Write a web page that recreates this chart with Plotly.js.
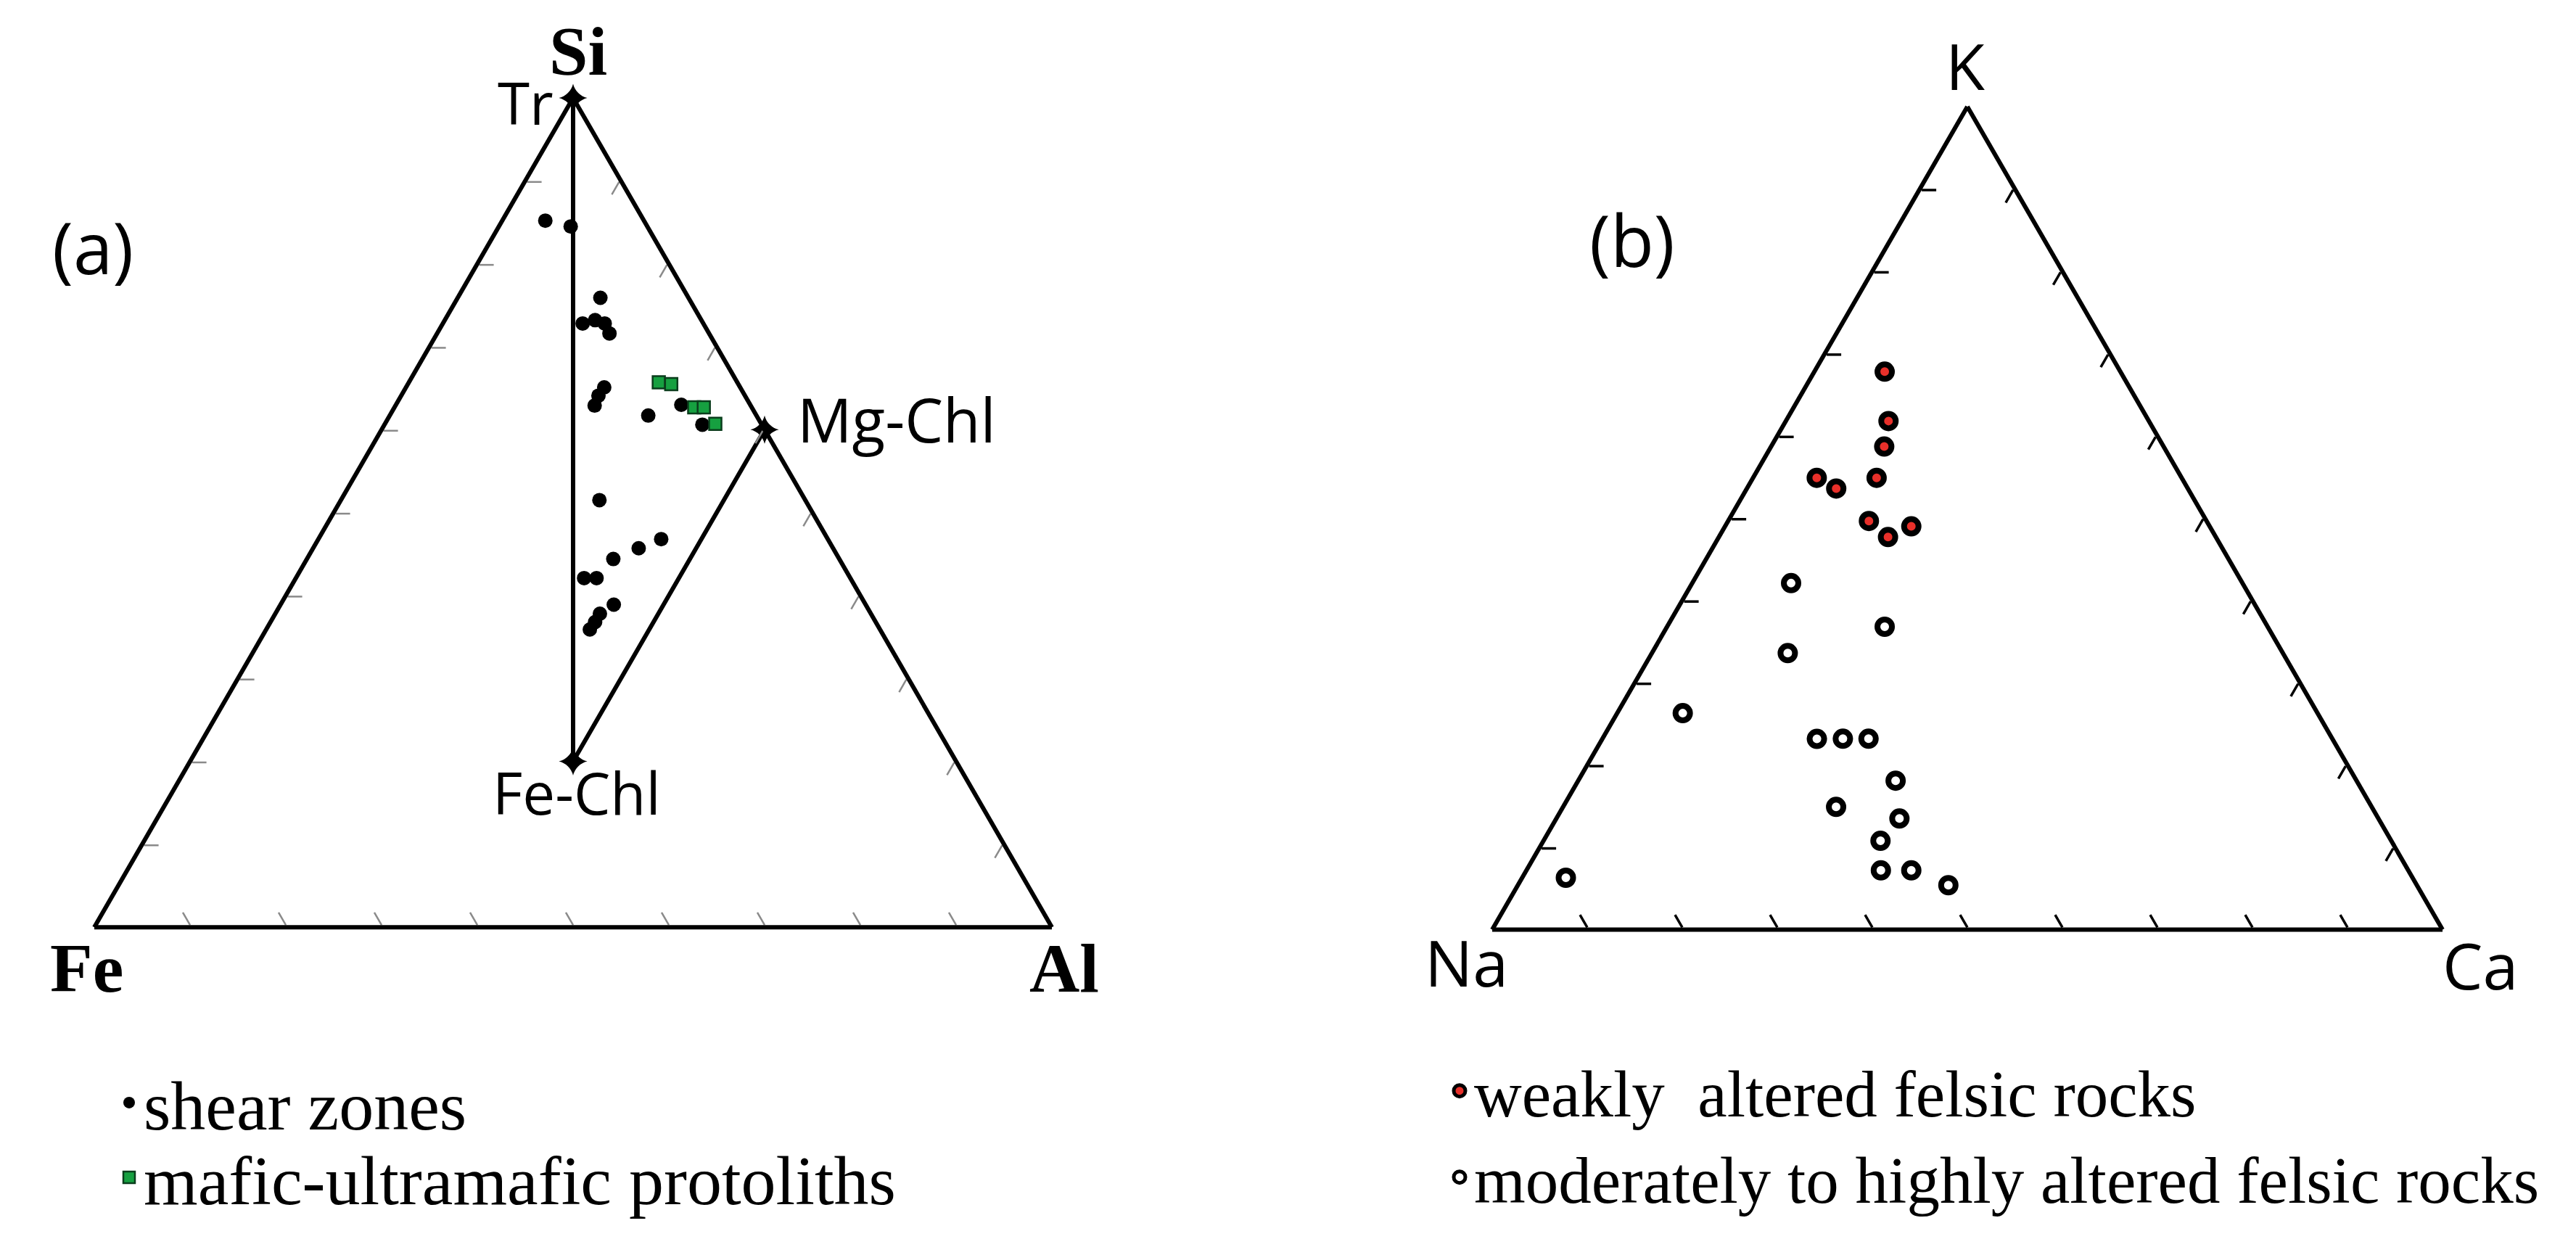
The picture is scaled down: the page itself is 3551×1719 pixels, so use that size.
<!DOCTYPE html>
<html>
<head>
<meta charset="utf-8">
<script src="https://cdn.plot.ly/plotly-3.0.1.min.js"></script>
<style>html,body{margin:0;padding:0;background:#fff;}#chart{width:3551px;height:1719px;}</style>
</head>
<body>
<div id="chart"></div>
<script>
// ---------- Panel (a): Si (top) - Fe (left) - Al (right) ----------
const shearSi = [0.852,0.845,0.759,0.728,0.732,0.728,0.716,0.651,0.641,0.629,0.617,0.630,0.606,0.515,0.468,0.457,0.444,0.421,0.421,0.389,0.378,0.368,0.359];
const shearFe = [0.103,0.080,0.092,0.126,0.111,0.103,0.104,0.142,0.153,0.163,0.113,0.072,0.062,0.215,0.174,0.203,0.236,0.278,0.265,0.263,0.283,0.293,0.303];
const shearAl = [0.045,0.075,0.149,0.146,0.157,0.169,0.180,0.207,0.206,0.208,0.270,0.298,0.332,0.270,0.358,0.340,0.320,0.301,0.314,0.348,0.339,0.339,0.338];

const maficSi = [0.657,0.655,0.627,0.627,0.607];
const maficFe = [0.082,0.070,0.060,0.050,0.048];
const maficAl = [0.261,0.275,0.313,0.323,0.345];

const mineralNames = ['Tr','Fe-Chl','Mg-Chl'];
const mineralSi = [1.0,0.2,0.6];
const mineralFe = [0.0,0.4,0.0];
const mineralAl = [0.0,0.4,0.4];

// ---------- Panel (b): K (top) - Na (left) - Ca (right) ----------
const weakK  = [0.678,0.618,0.587,0.549,0.536,0.549,0.496,0.490,0.477];
const weakNa = [0.248,0.274,0.294,0.384,0.370,0.321,0.355,0.314,0.345];
const weakCa = [0.074,0.108,0.119,0.067,0.094,0.130,0.148,0.196,0.178];

const modK  = [0.421,0.368,0.336,0.263,0.232,0.232,0.232,0.181,0.149,0.135,0.108,0.072,0.072,0.054,0.063];
const modNa = [0.475,0.403,0.521,0.668,0.543,0.515,0.488,0.485,0.563,0.504,0.538,0.555,0.523,0.493,0.891];
const modCa = [0.104,0.229,0.143,0.069,0.226,0.253,0.280,0.334,0.287,0.361,0.355,0.373,0.405,0.453,0.046];

const legendA = ['shear zones','mafic-ultramafic protoliths'];
const legendB = ['weakly  altered felsic rocks','moderately to highly altered felsic rocks'];
const cornerA = ['Si','Fe','Al'];
const cornerB = ['K','Na','Ca'];
const panelLabels = ['(a)','(b)'];

const W = 3551, H = 1719;
const px = v => v / W;
const py = v => 1 - v / H;

const sans = 'Open Sans, Liberation Sans, sans-serif';
const serif = 'Liberation Serif, Times New Roman, serif';

// triangle frame of panel (a) in page pixels (used for the domain and for label placement)
const frameA = {x0:130, w:1320, y0:135};
frameA.h = frameA.w * Math.sqrt(3) / 2;
const frameB = {x0:2057, w:1310, y0:147};
frameB.h = frameB.w * Math.sqrt(3) / 2;

function ternToPage(f, a, b, c){
  const s = a + b + c;
  const A = a / s, C = c / s;
  return {x: f.x0 + (C + A / 2) * f.w, y: f.y0 + (1 - A) * f.h};
}

// vertex labels: anchor + pixel offset from the vertex
const labelSpec = [
  {dx:-25, dy:5,  xanchor:'right',  size:80},   // Tr
  {dx:5,   dy:42, xanchor:'center', size:80},   // Fe-Chl
  {dx:43,  dy:-15, xanchor:'left',  size:84}    // Mg-Chl
];
const mineralLabels = mineralNames.map((n, i) => {
  const p = ternToPage(frameA, mineralSi[i], mineralFe[i], mineralAl[i]);
  const s = labelSpec[i];
  return {text:n, x:px(p.x + s.dx), y:py(p.y + s.dy), xanchor:s.xanchor,
          font:{family:sans, size:s.size, color:'#000'}};
});

const traces = [
  {
    type:'scatterternary', subplot:'ternary', mode:'lines+markers', cliponaxis:false,
    a: mineralSi, b: mineralFe, c: mineralAl, text: mineralNames,
    line:{color:'#000', width:6},
    marker:{symbol:'star-diamond', size:28, color:'#000'},
    showlegend:false, hoverinfo:'skip'
  },
  {
    type:'scatterternary', subplot:'ternary', mode:'markers', name: legendA[0], cliponaxis:false,
    a: shearSi, b: shearFe, c: shearAl,
    marker:{symbol:'circle', size:20, color:'#000', line:{width:0}},
    legend:'legend'
  },
  {
    type:'scatterternary', subplot:'ternary', mode:'markers', name: legendA[1], cliponaxis:false,
    a: maficSi, b: maficFe, c: maficAl,
    marker:{symbol:'square', size:17, color:'#16a040', line:{width:2.5, color:'#0a3d1c'}},
    legend:'legend3'
  },
  {
    type:'scatterternary', subplot:'ternary2', mode:'markers', name: legendB[0], cliponaxis:false,
    a: weakK, b: weakNa, c: weakCa,
    marker:{symbol:'circle', size:20, color:'#e8302a', line:{width:8, color:'#000'}},
    legend:'legend2'
  },
  {
    type:'scatterternary', subplot:'ternary2', mode:'markers', name: legendB[1], cliponaxis:false,
    a: modK, b: modNa, c: modCa,
    marker:{symbol:'circle', size:20, color:'#fff', line:{width:8, color:'#000'}},
    legend:'legend4'
  }
];

function ax(tickcolor, tw){
  return {
    title:{text:''}, showgrid:false, showline:true, linecolor:'#000', linewidth:6,
    ticks:'inside', ticklen:20, tickwidth:tw, tickcolor:tickcolor, dtick:0.1,
    showticklabels:false, min:0
  };
}

function leg(x, yTop, size){
  return {
    x:px(x), y:py(yTop), xanchor:'left', yanchor:'top',
    font:{family:serif, size:size, color:'#000'}, bgcolor:'rgba(0,0,0,0)', borderwidth:0
  };
}

const layout = {
  width:W, height:H,
  margin:{l:0,r:0,t:0,b:0,pad:0},
  paper_bgcolor:'#fff',
  ternary:{
    domain:{x:[px(frameA.x0), px(frameA.x0 + frameA.w)], y:[py(frameA.y0 + frameA.h), py(frameA.y0)]},
    bgcolor:'#fff', sum:1,
    aaxis:ax('#8a8a8a',2.5), baxis:ax('#8a8a8a',2.5), caxis:ax('#8a8a8a',2.5)
  },
  ternary2:{
    domain:{x:[px(frameB.x0), px(frameB.x0 + frameB.w)], y:[py(frameB.y0 + frameB.h), py(frameB.y0)]},
    bgcolor:'#fff', sum:1,
    aaxis:ax('#000',3.5), baxis:ax('#000',3.5), caxis:ax('#000',3.5)
  },
  legend:  leg(158, 1451, 96),
  legend3: leg(158, 1554, 96),
  legend2: leg(1992, 1438, 91),
  legend4: leg(1992, 1557, 91),
  annotations:[
    {text:cornerA[0], x:px(797), y:py(70), font:{family:serif, size:96, color:'#000', weight:'bold'}},
    {text:cornerA[1], x:px(120), y:py(1334), font:{family:serif, size:96, color:'#000', weight:'bold'}},
    {text:cornerA[2], x:px(1467), y:py(1334), font:{family:serif, size:96, color:'#000', weight:'bold'}},
    {text:cornerB[0], x:px(2709), y:py(90), font:{family:sans, size:88, color:'#000'}},
    {text:cornerB[1], x:px(2022), y:py(1326), font:{family:sans, size:88, color:'#000'}},
    {text:cornerB[2], x:px(3419), y:py(1330), font:{family:sans, size:88, color:'#000'}},
    {text:panelLabels[0], x:px(128), y:py(340), font:{family:sans, size:98, color:'#000'}},
    {text:panelLabels[1], x:px(2250), y:py(330), font:{family:sans, size:98, color:'#000'}}
  ].concat(mineralLabels)
   .map(a => Object.assign({xref:'paper', yref:'paper', xanchor:'center', yanchor:'middle', showarrow:false}, a))
};

Plotly.newPlot('chart', traces, layout, {displayModeBar:false, staticPlot:true});
</script>
</body>
</html>
